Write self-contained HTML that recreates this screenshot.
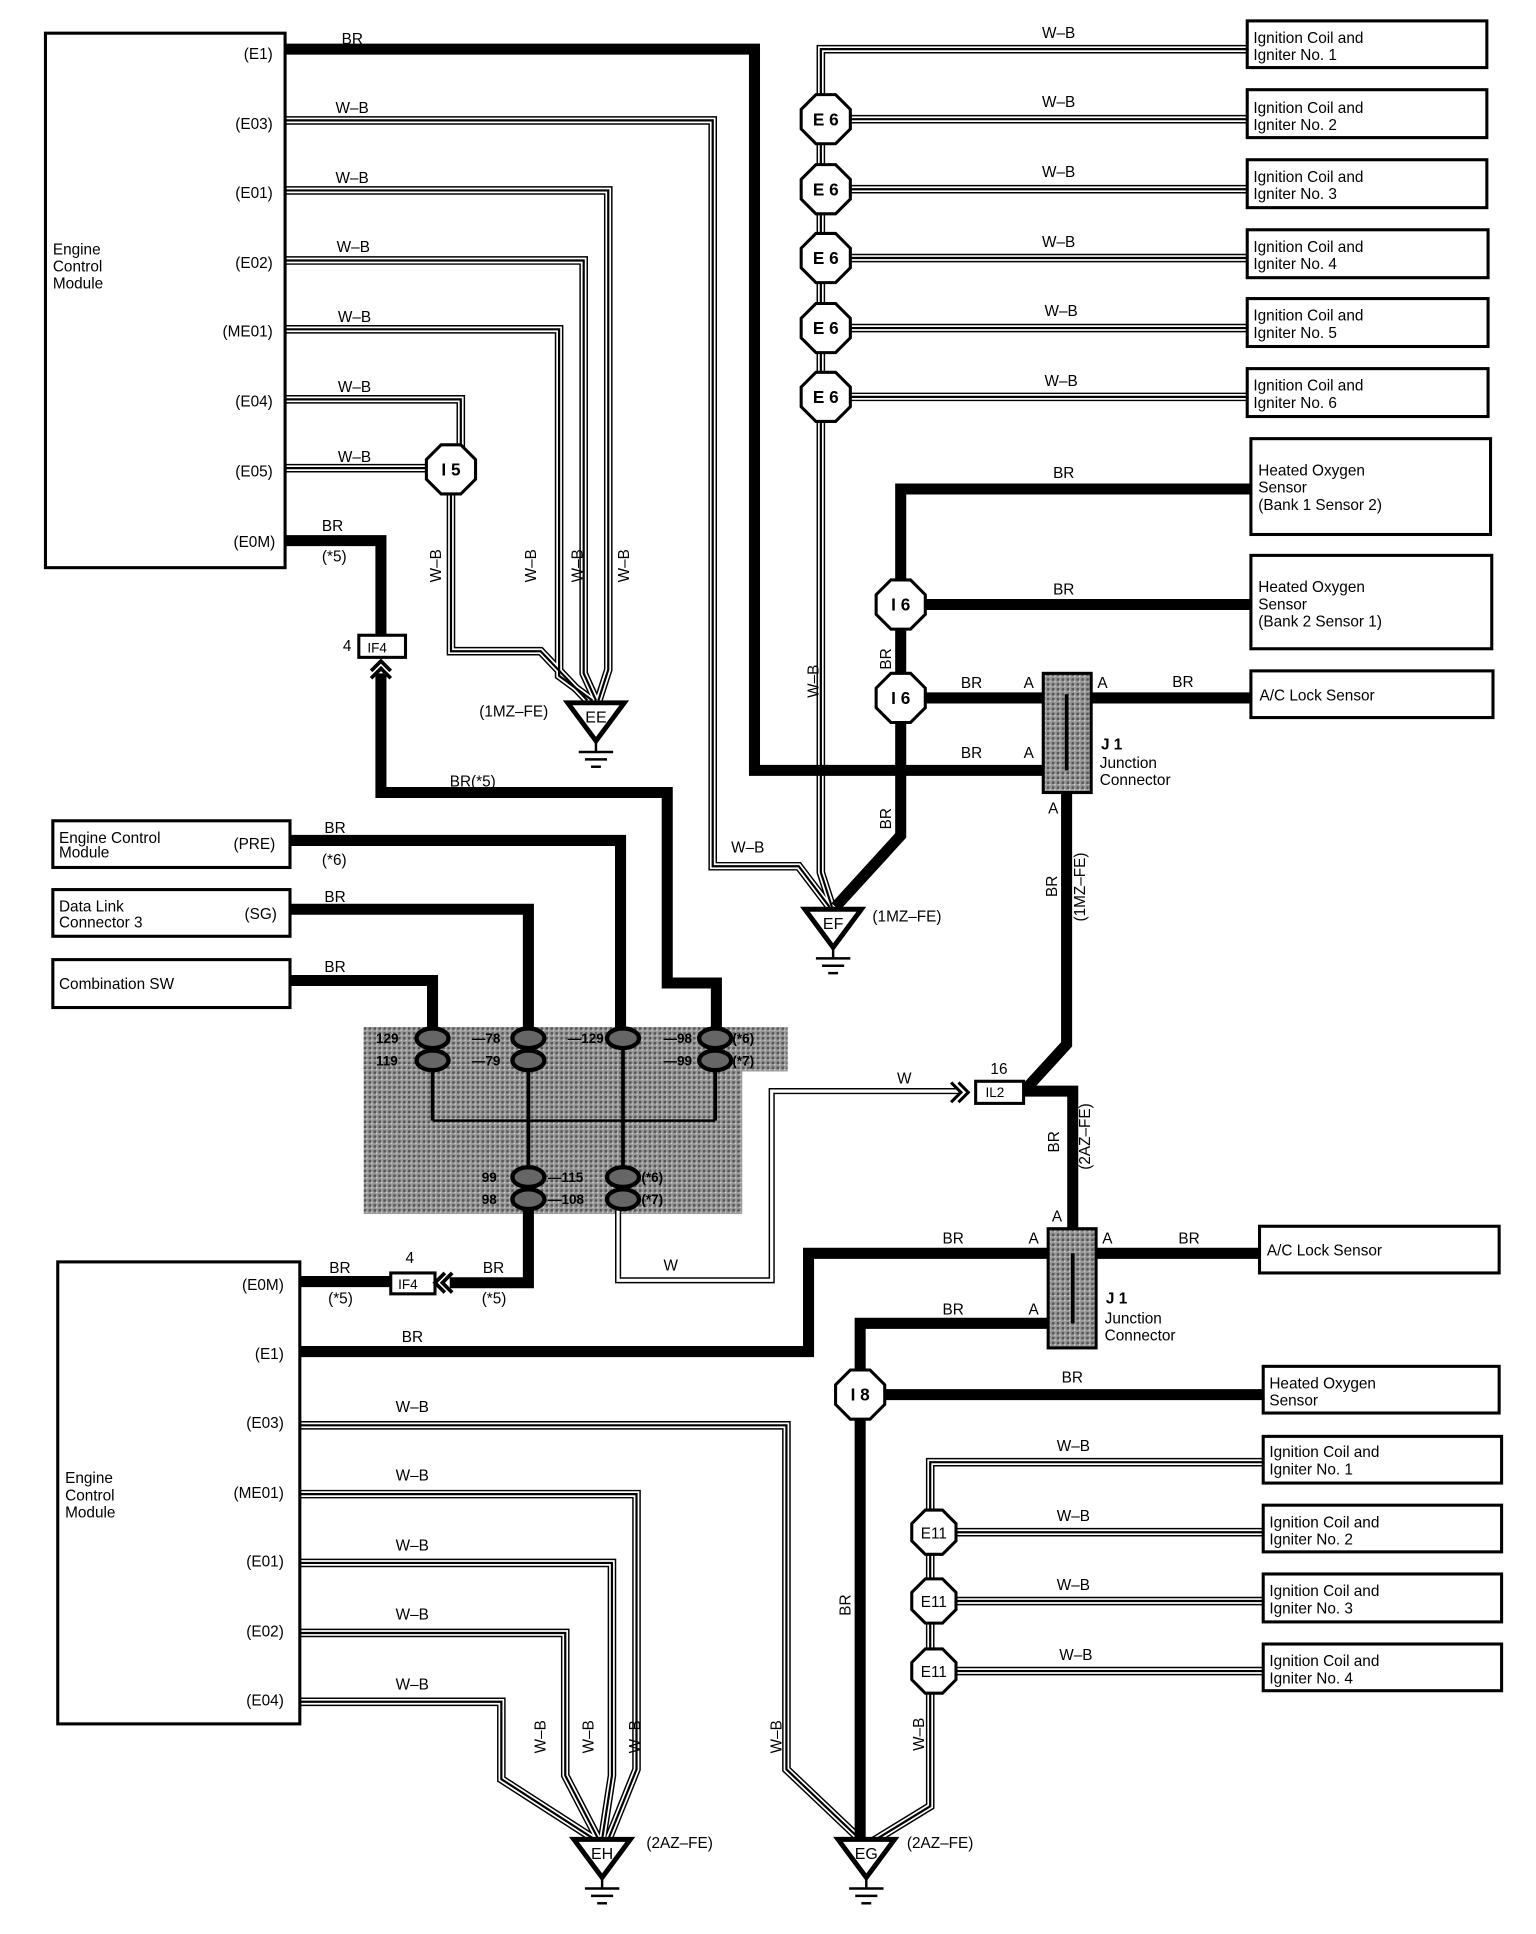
<!DOCTYPE html>
<html><head><meta charset="utf-8"><style>
html,body{margin:0;padding:0;background:#fff;}
svg{display:block;}
text{font-family:"Liberation Sans",Arial,sans-serif;fill:#000;}
.l{font-size:12.5px;font-weight:500;}
.s{font-size:11px;}
.br{fill:none;stroke:#000;stroke-width:9;stroke-linejoin:miter;}
.wa{fill:none;stroke:#000;stroke-width:7;stroke-linejoin:miter;}
.wb{fill:none;stroke:#fff;stroke-width:4.6;stroke-linejoin:miter;}
.wc{fill:none;stroke:#000;stroke-width:1.8;stroke-linejoin:miter;}
.bx{fill:#fff;stroke:#000;stroke-width:2.5;}
.oct{fill:#fff;stroke:#000;stroke-width:2.5;}
</style></head><body>
<svg width="1536" height="1934" viewBox="0 0 1250 1574" preserveAspectRatio="none" xmlns="http://www.w3.org/2000/svg">
<defs>
<pattern id="dot" width="4" height="4" patternUnits="userSpaceOnUse"><rect width="4" height="4" fill="#999"/><rect width="2" height="2" fill="#555"/><rect x="2" y="2" width="1" height="1" fill="#ddd"/></pattern>
<polygon id="oc" points="-8,-20 8,-20 20,-8 20,8 8,20 -8,20 -20,8 -20,-8"/>
<polygon id="oc2" points="-7,-18 7,-18 18,-7 18,7 7,18 -7,18 -18,7 -18,-7"/>
<g id="gnd"><polygon points="-23,0 23,0 0,31" fill="#fff" stroke="#000" stroke-width="4"/><line x1="0" y1="31" x2="0" y2="40" stroke="#000" stroke-width="2"/><line x1="-14" y1="40" x2="14" y2="40" stroke="#000" stroke-width="2"/><line x1="-9" y1="46" x2="9" y2="46" stroke="#000" stroke-width="2"/><line x1="-4" y1="52" x2="4" y2="52" stroke="#000" stroke-width="2"/></g>
<path id="w1" d="M232,98 H580 V705 H650 L675,738"/>
<path id="w2" d="M232,155 H495 V545 L487,570"/>
<path id="w3" d="M232,212 H475 V548 L485,570"/>
<path id="w4" d="M232,268 H455 V550 L482,570"/>
<path id="w5" d="M232,325 H375 V370"/>
<path id="w6" d="M232,381 H350"/>
<path id="w7" d="M367,400 V530 H440 L478,570"/>
<path id="w8" d="M1015,40 H668 V710 L677,738"/>
<path id="w9" d="M1015,97 H690"/><path id="w10" d="M1015,154 H690"/><path id="w11" d="M1015,210 H690"/><path id="w12" d="M1015,267 H690"/><path id="w13" d="M1015,323 H690"/>
<path id="w14" d="M1028,1190 H757 V1470 L708,1500"/>
<path id="w15" d="M1028,1247 H778"/><path id="w16" d="M1028,1303 H778"/><path id="w17" d="M1028,1360 H778"/>
<path id="w18" d="M244,1160 H640 V1440 L700,1497"/>
<path id="w19" d="M244,1216 H518 V1440 L495,1497"/>
<path id="w20" d="M244,1272 H498 V1445 L490,1497"/>
<path id="w21" d="M244,1329 H460 V1445 L487,1497"/>
<path id="w22" d="M244,1385 H408 V1448 L484,1497"/>
</defs>

<rect x="296" y="836" width="345" height="36" fill="url(#dot)"/>
<rect x="296" y="836" width="308" height="152" fill="url(#dot)"/>

<g>
<use href="#w1" class="wa"/><use href="#w2" class="wa"/><use href="#w3" class="wa"/><use href="#w4" class="wa"/><use href="#w5" class="wa"/><use href="#w6" class="wa"/><use href="#w7" class="wa"/><use href="#w8" class="wa"/><use href="#w9" class="wa"/><use href="#w10" class="wa"/><use href="#w11" class="wa"/><use href="#w12" class="wa"/><use href="#w13" class="wa"/><use href="#w14" class="wa"/><use href="#w15" class="wa"/><use href="#w16" class="wa"/><use href="#w17" class="wa"/><use href="#w18" class="wa"/><use href="#w19" class="wa"/><use href="#w20" class="wa"/><use href="#w21" class="wa"/><use href="#w22" class="wa"/>
<use href="#w1" class="wb"/><use href="#w2" class="wb"/><use href="#w3" class="wb"/><use href="#w4" class="wb"/><use href="#w5" class="wb"/><use href="#w6" class="wb"/><use href="#w7" class="wb"/><use href="#w8" class="wb"/><use href="#w9" class="wb"/><use href="#w10" class="wb"/><use href="#w11" class="wb"/><use href="#w12" class="wb"/><use href="#w13" class="wb"/><use href="#w14" class="wb"/><use href="#w15" class="wb"/><use href="#w16" class="wb"/><use href="#w17" class="wb"/><use href="#w18" class="wb"/><use href="#w19" class="wb"/><use href="#w20" class="wb"/><use href="#w21" class="wb"/><use href="#w22" class="wb"/>
<use href="#w1" class="wc"/><use href="#w2" class="wc"/><use href="#w3" class="wc"/><use href="#w4" class="wc"/><use href="#w5" class="wc"/><use href="#w6" class="wc"/><use href="#w7" class="wc"/><use href="#w8" class="wc"/><use href="#w9" class="wc"/><use href="#w10" class="wc"/><use href="#w11" class="wc"/><use href="#w12" class="wc"/><use href="#w13" class="wc"/><use href="#w14" class="wc"/><use href="#w15" class="wc"/><use href="#w16" class="wc"/><use href="#w17" class="wc"/><use href="#w18" class="wc"/><use href="#w19" class="wc"/><use href="#w20" class="wc"/><use href="#w21" class="wc"/><use href="#w22" class="wc"/>
</g>

<path d="M780,888 H628 V1042 H503 V985" fill="none" stroke="#000" stroke-width="5"/>
<path d="M780,888 H628 V1042 H503 V985" fill="none" stroke="#fff" stroke-width="2.6"/>

<path class="br" d="M232,40 H614 V627 H849"/>
<path class="br" d="M232,440 H310 V518"/>
<path class="br" d="M310,548 V645 H543 V800 H583 V840"/>
<path class="br" d="M1018,398 H733 V680 L680,738"/>
<path class="br" d="M733,492 H1018"/>
<path class="br" d="M733,568 H849"/>
<path class="br" d="M888,568 H1018"/>
<path class="br" d="M868,645 V850 L836,885"/>
<path class="br" d="M833,888 H873 V1000"/>
<path class="br" d="M892,1020 H1025"/>
<path class="br" d="M853,1020 H658 V1100 H244"/>
<path class="br" d="M853,1077 H700 V1498"/>
<path class="br" d="M720,1135 H1028"/>
<path class="br" d="M236,684 H505 V840"/>
<path class="br" d="M236,740 H430 V840"/>
<path class="br" d="M236,798 H352 V840"/>
<path class="br" d="M244,1043 H318"/>
<path class="br" d="M366,1044 H430 V985"/>

<g stroke="#000" fill="none" stroke-width="3">
<line x1="352" y1="870" x2="352" y2="912"/><line x1="430" y1="870" x2="430" y2="950"/><line x1="507" y1="850" x2="507" y2="950"/><line x1="582" y1="870" x2="582" y2="912"/>
<line x1="352" y1="912" x2="582" y2="912" stroke-width="2"/>
<g stroke-width="3.5" fill="#666"><ellipse cx="352" cy="845" rx="13" ry="8"/><ellipse cx="352" cy="863" rx="13" ry="8"/><ellipse cx="430" cy="845" rx="13" ry="8"/><ellipse cx="430" cy="863" rx="13" ry="8"/><ellipse cx="507" cy="845" rx="13" ry="8"/><ellipse cx="582" cy="845" rx="13" ry="8"/><ellipse cx="582" cy="863" rx="13" ry="8"/><ellipse cx="430" cy="958" rx="13" ry="8"/><ellipse cx="430" cy="976" rx="13" ry="8"/><ellipse cx="507" cy="958" rx="13" ry="8"/><ellipse cx="507" cy="976" rx="13" ry="8"/></g>
</g>
<g class="s" font-size="10.5" font-weight="bold">
<text x="306" y="849">129</text><text x="306" y="867">119</text><text x="384" y="849">—78</text><text x="384" y="867">—79</text><text x="462" y="849">—129</text><text x="540" y="849">—98</text><text x="540" y="867">—99</text><text x="596" y="849">(*6)</text><text x="596" y="867">(*7)</text>
<text x="392" y="962">99</text><text x="392" y="980">98</text><text x="446" y="962">—115</text><text x="446" y="980">—108</text><text x="522" y="962">(*6)</text><text x="522" y="980">(*7)</text>
</g>

<rect class="bx" x="37" y="27" width="195" height="435"/>
<rect class="bx" x="47" y="1027" width="197" height="376"/>
<rect class="bx" x="43" y="668" width="193" height="38"/>
<rect class="bx" x="43" y="724" width="193" height="38"/>
<rect class="bx" x="43" y="781" width="193" height="39"/>
<rect class="bx" x="1015" y="17" width="195" height="38"/>
<rect class="bx" x="1015" y="73" width="195" height="39"/>
<rect class="bx" x="1015" y="130" width="195" height="39"/>
<rect class="bx" x="1015" y="187" width="196" height="39"/>
<rect class="bx" x="1015" y="243" width="196" height="39"/>
<rect class="bx" x="1015" y="300" width="196" height="39"/>
<rect class="bx" x="1018" y="357" width="195" height="78"/>
<rect class="bx" x="1018" y="452" width="196" height="76"/>
<rect class="bx" x="1018" y="546" width="197" height="38"/>
<rect class="bx" x="1025" y="998" width="195" height="38"/>
<rect class="bx" x="1028" y="1112" width="192" height="38"/>
<rect class="bx" x="1028" y="1169" width="194" height="38"/>
<rect class="bx" x="1028" y="1225" width="194" height="38"/>
<rect class="bx" x="1028" y="1281" width="194" height="39"/>
<rect class="bx" x="1028" y="1338" width="194" height="38"/>

<rect x="849" y="548" width="39" height="97" fill="url(#dot)" stroke="#000" stroke-width="2.5"/>
<line x1="868" y1="565" x2="868" y2="627" stroke="#000" stroke-width="3"/>
<rect x="853" y="1000" width="39" height="97" fill="url(#dot)" stroke="#000" stroke-width="2.5"/>
<line x1="873" y1="1020" x2="873" y2="1077" stroke="#000" stroke-width="3"/>

<rect class="bx" x="292" y="517" width="38" height="18"/>
<path d="M302,552 L310,544 L318,552 M302,546 L310,538 L318,546" fill="none" stroke="#000" stroke-width="3"/>
<rect class="bx" x="318" y="1036" width="36" height="17"/>
<path d="M362,1036 L354,1044 L362,1052 M368,1036 L360,1044 L368,1052" fill="none" stroke="#000" stroke-width="3"/>
<rect class="bx" x="794" y="880" width="39" height="18"/>
<path d="M774,881 L782,889 L774,897 M780,881 L788,889 L780,897" fill="none" stroke="#000" stroke-width="2.5"/>

<g class="oct">
<use href="#oc" x="367" y="382"/>
<use href="#oc" x="672" y="97"/><use href="#oc" x="672" y="154"/><use href="#oc" x="672" y="210"/><use href="#oc" x="672" y="267"/><use href="#oc" x="672" y="323"/>
<use href="#oc" x="733" y="492"/><use href="#oc" x="733" y="568"/>
<use href="#oc" x="700" y="1135"/>
<use href="#oc2" x="760" y="1247"/><use href="#oc2" x="760" y="1303"/><use href="#oc2" x="760" y="1360"/>
</g>
<g font-size="14" font-weight="bold" text-anchor="middle">
<text x="367" y="387">I 5</text>
<text x="672" y="102">E 6</text><text x="672" y="159">E 6</text><text x="672" y="215">E 6</text><text x="672" y="272">E 6</text><text x="672" y="328">E 6</text>
<text x="733" y="497">I 6</text><text x="733" y="573">I 6</text><text x="700" y="1140">I 8</text>
</g>
<g font-size="12.5" text-anchor="middle"><text x="760" y="1252">E11</text><text x="760" y="1308">E11</text><text x="760" y="1365">E11</text></g>

<use href="#gnd" x="485" y="572"/><use href="#gnd" x="678" y="740"/><use href="#gnd" x="490" y="1497"/><use href="#gnd" x="705" y="1497"/>
<g font-size="13" text-anchor="middle"><text x="485" y="588">EE</text><text x="678" y="756">EF</text><text x="490" y="1513">EH</text><text x="705" y="1513">EG</text></g>

<g class="l">
<text x="43" y="207">Engine</text><text x="43" y="221">Control</text><text x="43" y="235">Module</text>
<g text-anchor="end"><text x="222" y="48">(E1)</text><text x="222" y="105">(E03)</text><text x="222" y="161">(E01)</text><text x="222" y="218">(E02)</text><text x="222" y="274">(ME01)</text><text x="222" y="331">(E04)</text><text x="222" y="388">(E05)</text><text x="224" y="445">(E0M)</text></g>
<text x="278" y="36">BR</text>
<text x="273" y="92">W–B</text><text x="273" y="149">W–B</text><text x="274" y="205">W–B</text><text x="275" y="262">W–B</text><text x="275" y="319">W–B</text><text x="275" y="376">W–B</text>
<text x="262" y="432">BR</text><text x="262" y="457">(*5)</text>
<text x="279" y="530">4</text><text x="299" y="531" font-size="11">IF4</text>
<text x="366" y="640">BR(*5)</text>
<text x="390" y="583">(1MZ–FE)</text><text x="710" y="750">(1MZ–FE)</text>
<text x="595" y="694">W–B</text>
<text x="48" y="686">Engine Control</text><text x="48" y="698">Module</text><text x="190" y="691">(PRE)</text>
<text x="48" y="742">Data Link</text><text x="48" y="755">Connector 3</text><text x="199" y="748">(SG)</text>
<text x="48" y="805">Combination SW</text>
<text x="264" y="678">BR</text><text x="262" y="704">(*6)</text><text x="264" y="734">BR</text><text x="264" y="791">BR</text>
<text x="848" y="31">W–B</text><text x="848" y="87">W–B</text><text x="848" y="144">W–B</text><text x="848" y="201">W–B</text><text x="850" y="257">W–B</text><text x="850" y="314">W–B</text>
<text x="1020" y="35">Ignition Coil and</text><text x="1020" y="49">Igniter No. 1</text>
<text x="1020" y="92">Ignition Coil and</text><text x="1020" y="106">Igniter No. 2</text>
<text x="1020" y="148">Ignition Coil and</text><text x="1020" y="162">Igniter No. 3</text>
<text x="1020" y="205">Ignition Coil and</text><text x="1020" y="219">Igniter No. 4</text>
<text x="1020" y="261">Ignition Coil and</text><text x="1020" y="275">Igniter No. 5</text>
<text x="1020" y="318">Ignition Coil and</text><text x="1020" y="332">Igniter No. 6</text>
<text x="1024" y="387">Heated Oxygen</text><text x="1024" y="401">Sensor</text><text x="1024" y="415">(Bank 1 Sensor 2)</text>
<text x="1024" y="482">Heated Oxygen</text><text x="1024" y="496">Sensor</text><text x="1024" y="510">(Bank 2 Sensor 1)</text>
<text x="1025" y="570">A/C Lock Sensor</text>
<text x="857" y="389">BR</text><text x="857" y="484">BR</text>
<text x="782" y="560">BR</text><text x="833" y="560">A</text><text x="893" y="560">A</text><text x="954" y="559">BR</text>
<text x="782" y="617">BR</text><text x="833" y="617">A</text>
<text x="896" y="610" font-weight="bold">J 1</text><text x="895" y="625">Junction</text><text x="895" y="639">Connector</text>
<text x="853" y="662">A</text>
<text x="806" y="874">16</text><text x="802" y="893" font-size="11">IL2</text>
<text x="730" y="882">W</text><text x="540" y="1034">W</text>
<text x="856" y="994">A</text>
<text x="767" y="1012">BR</text><text x="837" y="1012">A</text><text x="897" y="1012">A</text><text x="959" y="1012">BR</text>
<text x="767" y="1070">BR</text><text x="837" y="1070">A</text>
<text x="900" y="1061" font-weight="bold">J 1</text><text x="899" y="1077">Junction</text><text x="899" y="1091">Connector</text>
<text x="1031" y="1022">A/C Lock Sensor</text>
<text x="1033" y="1130">Heated Oxygen</text><text x="1033" y="1144">Sensor</text>
<text x="864" y="1125">BR</text>
<text x="1033" y="1186">Ignition Coil and</text><text x="1033" y="1200">Igniter No. 1</text>
<text x="1033" y="1243">Ignition Coil and</text><text x="1033" y="1257">Igniter No. 2</text>
<text x="1033" y="1299">Ignition Coil and</text><text x="1033" y="1313">Igniter No. 3</text>
<text x="1033" y="1356">Ignition Coil and</text><text x="1033" y="1370">Igniter No. 4</text>
<text x="860" y="1181">W–B</text><text x="860" y="1238">W–B</text><text x="860" y="1294">W–B</text><text x="862" y="1351">W–B</text>
<text x="53" y="1207">Engine</text><text x="53" y="1221">Control</text><text x="53" y="1235">Module</text>
<g text-anchor="end"><text x="231" y="1050">(E0M)</text><text x="231" y="1106">(E1)</text><text x="231" y="1162">(E03)</text><text x="231" y="1219">(ME01)</text><text x="231" y="1275">(E01)</text><text x="231" y="1332">(E02)</text><text x="231" y="1388">(E04)</text></g>
<text x="268" y="1036">BR</text><text x="267" y="1061">(*5)</text><text x="330" y="1028">4</text><text x="324" y="1049" font-size="11">IF4</text><text x="393" y="1036">BR</text><text x="392" y="1061">(*5)</text>
<text x="327" y="1092">BR</text>
<text x="322" y="1149">W–B</text><text x="322" y="1205">W–B</text><text x="322" y="1262">W–B</text><text x="322" y="1318">W–B</text><text x="322" y="1375">W–B</text>
<text x="526" y="1504">(2AZ–FE)</text><text x="738" y="1504">(2AZ–FE)</text>
</g>
<g class="l">
<text transform="translate(359,474) rotate(-90)">W–B</text>
<text transform="translate(436,474) rotate(-90)">W–B</text>
<text transform="translate(474,474) rotate(-90)">W–B</text>
<text transform="translate(512,474) rotate(-90)">W–B</text>
<text transform="translate(666,568) rotate(-90)">W–B</text>
<text transform="translate(725,545) rotate(-90)">BR</text>
<text transform="translate(725,675) rotate(-90)">BR</text>
<text transform="translate(860,730) rotate(-90)">BR</text>
<text transform="translate(883,750) rotate(-90)">(1MZ–FE)</text>
<text transform="translate(862,938) rotate(-90)">BR</text>
<text transform="translate(887,952) rotate(-90)">(2AZ–FE)</text>
<text transform="translate(692,1315) rotate(-90)">BR</text>
<text transform="translate(444,1427) rotate(-90)">W–B</text>
<text transform="translate(483,1427) rotate(-90)">W–B</text>
<text transform="translate(521,1427) rotate(-90)">W–B</text>
<text transform="translate(636,1427) rotate(-90)">W–B</text>
<text transform="translate(752,1425) rotate(-90)">W–B</text>
</g>
</svg>
</body></html>
